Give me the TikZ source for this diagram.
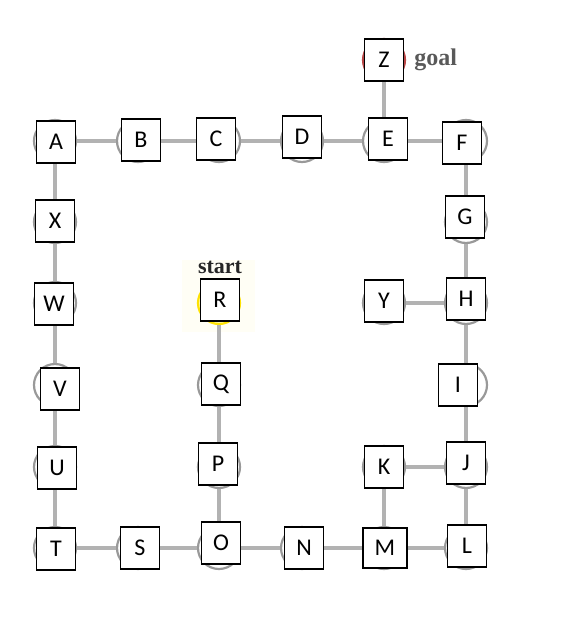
\documentclass[tikz,border=0pt]{standalone}
\usepackage{fontspec}
\setmainfont{Carlito}
\newfontfamily\lblfont{Liberation Serif}
\usetikzlibrary{positioning}
\tikzset{
  spot/.style={circle,draw=gray!80,line width=2.2pt,fill=white,minimum size=42pt,inner sep=0pt},
  spotR/.style={draw=yellow!85!orange,fill=yellow!25},
  spotZ/.style={draw=red!45!gray},
  link/.style={draw=gray!60,line width=3.2pt},
  box/.style={draw,line width=1.2pt,fill=white,minimum width=39pt,minimum height=42pt,inner sep=0pt,font=\fontsize{24}{24}\selectfont},
  boxM/.style={minimum width=44pt,minimum height=40pt},
  lbl/.style={inner sep=0pt,font=\lblfont\bfseries\fontsize{24}{24}\selectfont}
}
% name/circle x/circle y/box x/box y
\def\grid{A/55/141/56/142, B/138/141/141/140, C/219/141/216/139, D/302/141/302/137,
  E/384/141/388/139, F/466/141/462/143, Z/384/60/384/60, X/55/222/55/221,
  G/466/222/465/217, W/55/303/54/304, R/219/303/220/300, Y/384/303/384/301,
  H/466/303/466/299, V/55/385/60/389, Q/219/385/221/384, I/466/385/458/385,
  U/55/467/57/468, P/219/467/218/464, K/384/467/384/467, J/466/467/466/463,
  T/55/548/56/549, S/138/548/140/548, O/219/548/221/543, N/302/548/304/548,
  M/384/548/385/548, L/466/548/467/546}
\begin{document}
\begin{tikzpicture}[x=1pt,y=-1pt]
\useasboundingbox (0,0) rectangle (570,623);
\fill[yellow!4] (182,260) rectangle (255,332);
% circles of the maze
\foreach \n/\x/\y/\bx/\by in \grid
  \node[spot,spot\n/.try] (c\n) at (\x,\y) {};
\foreach \a/\b in {A/B,B/C,C/D,D/E,E/F,E/Z,A/X,X/W,W/V,V/U,U/T,T/S,S/O,O/N,N/M,M/L,
  O/P,P/Q,Q/R,F/G,G/H,H/Y,H/I,I/J,J/K,J/L,K/M}
  \draw[link] (c\a) -- (c\b);
% letter boxes
\foreach \n/\x/\y/\bx/\by in \grid
  \node[box,box\n/.try] (\n) at (\bx,\by) {\n};
\node[lbl,text=gray!30!black,font=\lblfont\bfseries\fontsize{22}{22}\selectfont,above=4pt of R] (start) {start};
\node[lbl,text=gray!70!black,right=10pt of Z] (goal) {goal};
\end{tikzpicture}
\end{document}
